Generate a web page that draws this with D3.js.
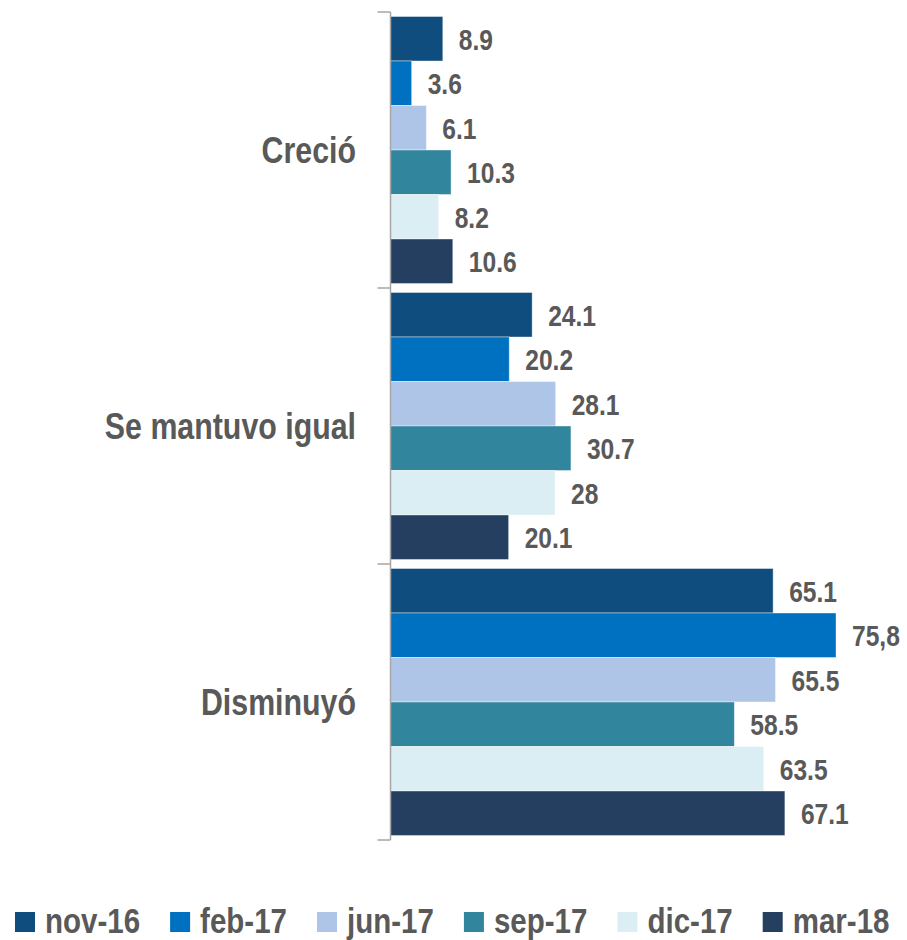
<!DOCTYPE html>
<html>
<head>
<meta charset="utf-8">
<title></title>
<style>
body { margin: 0; background: #fff; }
text { font-family: "Liberation Sans", Arial, sans-serif; font-weight: bold; fill: #595959; }
</style>
</head>
<body>
<script src="https://cdn.jsdelivr.net/npm/d3@7"></script>
<script>

var categories = ["Creció", "Se mantuvo igual", "Disminuyó"];
var series = ["nov-16", "feb-17", "jun-17", "sep-17", "dic-17", "mar-18"];
var colors = ["#0E4D7E", "#0070C0", "#AEC5E7", "#31859C", "#DAEEF3", "#243F60"];
// values per series, in category order
var values = {
  "nov-16": [8.9, 24.1, 65.1],
  "feb-17": [3.6, 20.2, 75.8],
  "jun-17": [6.1, 28.1, 65.5],
  "sep-17": [10.3, 30.7, 58.5],
  "dic-17": [8.2, 28, 63.5],
  "mar-18": [10.6, 20.1, 67.1]
};
// labels as printed on the chart
var labels = {
  "nov-16": ["8.9", "24.1", "65.1"],
  "feb-17": ["3.6", "20.2", "75,8"],
  "jun-17": ["6.1", "28.1", "65.5"],
  "sep-17": ["10.3", "30.7", "58.5"],
  "dic-17": ["8.2", "28", "63.5"],
  "mar-18": ["10.6", "20.1", "67.1"]
};

var narrow = 0.82; // no Arial Narrow installed, squeeze Liberation Sans instead

var width = 907, height = 940;
var svg = d3.select("body").append("svg")
    .attr("width", width)
    .attr("height", height);

var x = d3.scaleLinear().domain([0, 80]).range([390.5, 860.7]);
var y = d3.scaleBand().domain(categories).range([12, 840]).padding(0);
var yInner = d3.scaleBand().domain(series).range([4.5, y.bandwidth() - 4.5]).padding(0);
var color = d3.scaleOrdinal().domain(series).range(colors);

var rows = [];
categories.forEach(function(c, i) {
  series.forEach(function(s) {
    rows.push({cat: c, ser: s, value: values[s][i], label: labels[s][i]});
  });
});

function place(px, py) {
  return "translate(" + px + "," + py + ") scale(" + narrow + ",1)";
}

// bars
svg.append("g").selectAll("rect")
    .data(rows)
    .enter().append("rect")
    .attr("x", x(0))
    .attr("y", function(d) { return y(d.cat) + yInner(d.ser); })
    .attr("width", function(d) { return x(d.value) - x(0); })
    .attr("height", yInner.bandwidth())
    .style("fill", function(d) { return color(d.ser); })
    .style("stroke", "#ffffff")
    .style("stroke-opacity", 0.5)
    .style("stroke-width", 0.8);

// value labels
svg.append("g").selectAll("text")
    .data(rows)
    .enter().append("text")
    .attr("transform", function(d) {
      return place(x(d.value) + 16, y(d.cat) + yInner(d.ser) + yInner.bandwidth() / 2);
    })
    .attr("dy", "0.36em")
    .style("font-size", "30px")
    .text(function(d) { return d.label; });

// axis line with ticks at band edges
var axis = svg.append("g");
axis.append("line")
    .attr("x1", x(0)).attr("x2", x(0))
    .attr("y1", y.range()[0]).attr("y2", y.range()[1])
    .style("stroke", "#A6A6A6").style("stroke-width", 1.5);
var edges = categories.map(function(c) { return y(c); }).concat([y.range()[1]]);
axis.selectAll("line.tick")
    .data(edges)
    .enter().append("line")
    .attr("class", "tick")
    .attr("x1", x(0) - 13).attr("x2", x(0))
    .attr("y1", function(d) { return d; }).attr("y2", function(d) { return d; })
    .style("stroke", "#A6A6A6").style("stroke-width", 1.5);

// category labels
svg.append("g").selectAll("text")
    .data(categories)
    .enter().append("text")
    .attr("transform", function(d) { return place(356, y(d) + y.bandwidth() / 2); })
    .attr("dy", "0.36em")
    .attr("text-anchor", "end")
    .style("font-size", "37px")
    .text(function(d) { return d; });

// legend
var legend = svg.append("g");
var lx = 15;
series.forEach(function(s) {
  legend.append("rect")
      .attr("x", lx).attr("y", 912)
      .attr("width", 20).attr("height", 20)
      .style("fill", color(s));
  var t = legend.append("text")
      .attr("transform", place(lx + 30, 933))
      .style("font-size", "36px")
      .text(s);
  lx += 30 + t.node().getComputedTextLength() * narrow + 30;
});

</script>
</body>
</html>
